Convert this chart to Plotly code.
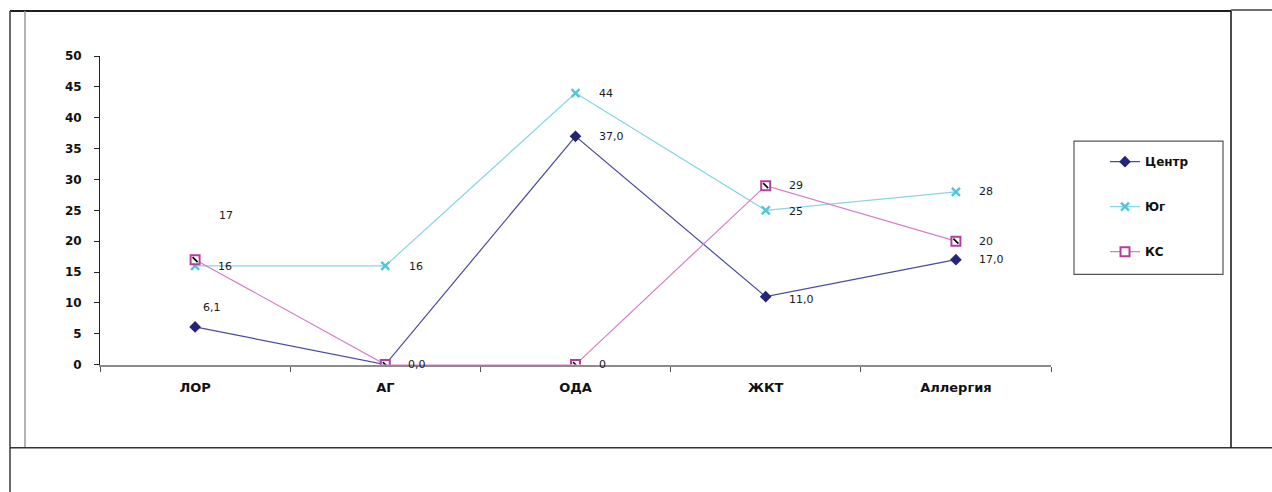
import plotly.graph_objects as go

W, H = 1272, 492

categories = ["ЛОР", "АГ", "ОДА", "ЖКТ", "Аллергия"]
centr = [6.1, 0.0, 37.0, 11.0, 17.0]
yug = [16, 16, 44, 25, 28]
ks = [17, 0, 0, 29, 20]
y_ticks = [0, 5, 10, 15, 20, 25, 30, 35, 40, 45, 50]

# vertical placement: page offset and scale of the rendered figure
Y_OFF, Y_SCALE = 7.0, 0.97


def px_x(x):
    return x / W


def px_y(y):
    return 1 - ((y - Y_OFF) / Y_SCALE) / H


fig = go.Figure()

series = [
    dict(name="Центр", y=centr, fmt="{:.1f}", line="#4b4b9e",
         marker=dict(symbol="diamond", size=9, color="#24247a",
                     line=dict(width=0))),
    dict(name="Юг", y=yug, fmt="{:.0f}", line="#86d6e6",
         marker=dict(symbol="x-thin", size=8, color="#4fc6da",
                     line=dict(width=2.4, color="#4fc6da"))),
    dict(name="КС", y=ks, fmt="{:.0f}", line="#d57fc6",
         marker=dict(symbol="square", size=9, color="white",
                     line=dict(width=2, color="#b23f9f"))),
]

for s in series:
    fig.add_trace(go.Scatter(
        x=categories, y=s["y"], name=s["name"], mode="lines+markers",
        line=dict(color=s["line"], width=1.2), marker=s["marker"],
        legendgroup=s["name"],
    ))

# black diagonal inside the КС square markers
fig.add_trace(go.Scatter(
    x=categories, y=ks, mode="markers", showlegend=False, hoverinfo="skip",
    marker=dict(symbol="line-nw", size=5, color="black",
                line=dict(width=1.6, color="black")),
))

# data labels (pixel offsets from each point; None = label hidden
# because it would sit on top of another one)
label_offsets = {
    "Центр": [(6, 19), (21, 0), (21, 0), (21, -3), (21, 0)],
    "Юг": [(21, -1), (22, -1), (21, 0), (21, -1), (21, 0)],
    "КС": [(22, 44), None, (21, 0), (21, 0), (21, 0)],
}
for s in series:
    for cat, v, off in zip(categories, s["y"], label_offsets[s["name"]]):
        if off is None:
            continue
        dx, dy = off
        fig.add_annotation(
            x=cat, y=v, text=s["fmt"].format(v).replace(".", ","),
            showarrow=False, xanchor="left", yanchor="middle",
            xshift=dx, yshift=dy,
            font=dict(family="DejaVu Sans", size=11, color="#1a1a1a"),
        )

# frame lines
frame = [
    (10, 11, 1231, 11, "#1e1e1e", 2),
    (1231, 10, 1272, 10, "#6e6e6e", 2),
    (10, 11, 10, 492, "#3a3a3a", 1.5),
    (25, 11, 25, 447, "#9a9a9a", 1.5),
    (10, 447, 1272, 447, "#333333", 1.5),
    (1231, 11, 1231, 447, "#111111", 1.5),
]
for x0, y0, x1, y1, c, w in frame:
    fig.add_shape(type="line", xref="paper", yref="paper",
                  x0=px_x(x0), y0=px_y(y0), x1=px_x(x1), y1=px_y(y1),
                  line=dict(color=c, width=w))

# legend box
fig.add_shape(type="rect", xref="paper", yref="paper",
              x0=px_x(1074), y0=px_y(274), x1=px_x(1223), y1=px_y(141),
              line=dict(color="#555555", width=1.2), fillcolor="rgba(0,0,0,0)")

fig.update_layout(
    width=W, height=H,
    margin=dict(l=0, r=0, t=0, b=0),
    paper_bgcolor="white", plot_bgcolor="white",
    showlegend=True,
    legend=dict(
        x=px_x(1105), y=px_y(147), xanchor="left", yanchor="top",
        bgcolor="rgba(0,0,0,0)", borderwidth=0,
        traceorder="grouped", tracegroupgap=26,
        font=dict(family="DejaVu Sans", size=12, color="#111111",
                  weight="bold"),
    ),
    xaxis=dict(
        domain=[px_x(100), px_x(1051)], range=[-0.5, 4.5],
        type="category", tickson="boundaries",
        showline=True, linecolor="#8c8c8c", linewidth=2,
        ticks="outside", ticklen=5, tickcolor="#555555",
        showgrid=False, zeroline=False, ticklabelstandoff=10,
        tickfont=dict(family="DejaVu Sans", size=13, color="#111111",
                      weight="bold"),
    ),
    yaxis=dict(
        domain=[px_y(364), px_y(56)], range=[0, 50],
        tickvals=y_ticks, showline=True, linecolor="#222222", linewidth=1,
        ticks="outside", ticklen=5, tickcolor="#222222",
        showgrid=False, zeroline=False, ticklabelstandoff=10,
        tickfont=dict(family="DejaVu Sans", size=12, color="#111111",
                      weight="bold"),
    ),
)

fig.write_html("out.html")
